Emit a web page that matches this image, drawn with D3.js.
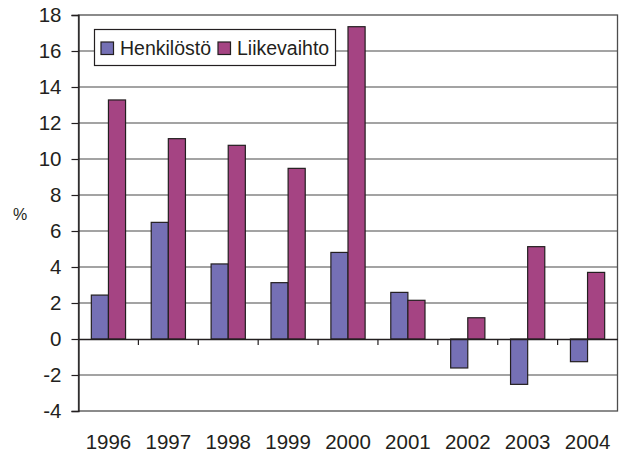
<!DOCTYPE html>
<html>
<head>
<meta charset="utf-8">
<script src="https://cdn.jsdelivr.net/npm/d3@7"></script>
<style>
  body { margin: 0; background: #fff; }
  text { font-family: "Liberation Sans", Arial, sans-serif; fill: #231f20; }
</style>
</head>
<body>
<script>
'use strict';

// chart values
let years = ["1996", "1997", "1998", "1999", "2000", "2001", "2002", "2003", "2004"];
let henkilosto = [2.44, 6.48, 4.17, 3.13, 4.81, 2.59, -1.61, -2.52, -1.26];
let liikevaihto = [13.28, 11.13, 10.76, 9.48, 17.35, 2.15, 1.18, 5.13, 3.70];
let seriesNames = ["Henkilöstö", "Liikevaihto"];
let seriesColors = ["#7570b5", "#a54483"];
let yTicks = [-4, -2, 0, 2, 4, 6, 8, 10, 12, 14, 16, 18];

let svg = d3.select("body").append("svg")
  .attr("width", 621)
  .attr("height", 453);

let plotLeft = 78.5, plotRight = 617.5, plotTop = 15, plotBottom = 411;

// scales
let x = d3.scaleBand().domain(years).range([plotLeft, plotRight]);
let y = d3.scaleLinear().domain([-4, 18]).range([plotBottom, plotTop]);
let barW = x.bandwidth() / 3.5;

// gridlines
svg.append("g")
  .selectAll("line")
  .data(yTicks.filter((d) => d !== 0 && d !== -4 && d !== 18))
  .enter().append("line")
  .attr("x1", plotLeft).attr("x2", plotRight)
  .attr("y1", (d) => y(d)).attr("y2", (d) => y(d))
  .attr("stroke", "#858585").attr("stroke-width", 1.5);

// plot border
svg.append("rect")
  .attr("x", plotLeft).attr("y", plotTop)
  .attr("width", plotRight - plotLeft).attr("height", plotBottom - plotTop)
  .attr("fill", "none").attr("stroke", "#4d4d4d").attr("stroke-width", 1.3);

// bars
let rows = years.map((yr, i) => ({ year: yr, values: [henkilosto[i], liikevaihto[i]] }));
let groups = svg.selectAll(".grp")
  .data(rows)
  .enter().append("g")
  .attr("class", "grp");

groups.selectAll("rect")
  .data((d) => d.values.map((v, k) => ({ year: d.year, v: v, k: k })))
  .enter().append("rect")
  .attr("x", (d) => x(d.year) + x.bandwidth() / 2 - barW + d.k * barW)
  .attr("y", (d) => y(Math.max(0, d.v)))
  .attr("width", barW)
  .attr("height", (d) => Math.abs(y(d.v) - y(0)))
  .attr("fill", (d) => seriesColors[d.k])
  .attr("stroke", "#231f20").attr("stroke-width", 1.2);

// x axis at zero with category ticks
let xAxis = d3.axisBottom(x).tickSize(0).tickFormat("");
let xg = svg.append("g")
  .attr("transform", `translate(0, ${y(0)})`)
  .call(xAxis);
xg.select(".domain").attr("stroke", "#231f20").attr("stroke-width", 1.3);
xg.selectAll(".sep")
  .data(years.slice(1))
  .enter().append("line")
  .attr("class", "sep")
  .attr("x1", (d) => x(d)).attr("x2", (d) => x(d))
  .attr("y1", 0).attr("y2", 6)
  .attr("stroke", "#231f20").attr("stroke-width", 1.2);

// year labels along the bottom
svg.selectAll(".yr")
  .data(years)
  .enter().append("text")
  .attr("class", "yr")
  .attr("x", (d) => x(d) + x.bandwidth() / 2)
  .attr("y", 449)
  .attr("text-anchor", "middle")
  .style("font-size", "20.5px")
  .text((d) => d);

// y axis
let yAxis = d3.axisLeft(y).tickValues(yTicks).tickSize(7).tickPadding(10)
  .tickFormat((d) => String(d));
let yg = svg.append("g")
  .attr("transform", `translate(${plotLeft}, 0)`)
  .call(yAxis);
yg.select(".domain").attr("stroke", "#231f20").attr("stroke-width", 1.3);
yg.selectAll(".tick line").attr("stroke", "#231f20").attr("stroke-width", 1.2);
yg.selectAll(".tick text")
  .style("font-size", "20.5px")
  .style("font-family", "'Liberation Sans', Arial, sans-serif")
  .attr("fill", "#231f20");

// "%" label
svg.append("text")
  .attr("x", 20).attr("y", 220)
  .attr("text-anchor", "middle")
  .style("font-size", "16px")
  .text("%");

// legend
let legend = svg.append("g");
legend.append("rect")
  .attr("x", 94.5).attr("y", 29.5)
  .attr("width", 241).attr("height", 36)
  .attr("fill", "#fff").attr("stroke", "#231f20").attr("stroke-width", 1.2);

let legX = [101, 218];
seriesNames.forEach((name, i) => {
  legend.append("rect")
    .attr("x", legX[i]).attr("y", 42)
    .attr("width", 12.5).attr("height", 12.5)
    .attr("fill", seriesColors[i])
    .attr("stroke", "#231f20").attr("stroke-width", 1.2);
  legend.append("text")
    .attr("x", legX[i] + 19).attr("y", 55)
    .style("font-size", "19.5px")
    .text(name);
});
</script>
</body>
</html>
